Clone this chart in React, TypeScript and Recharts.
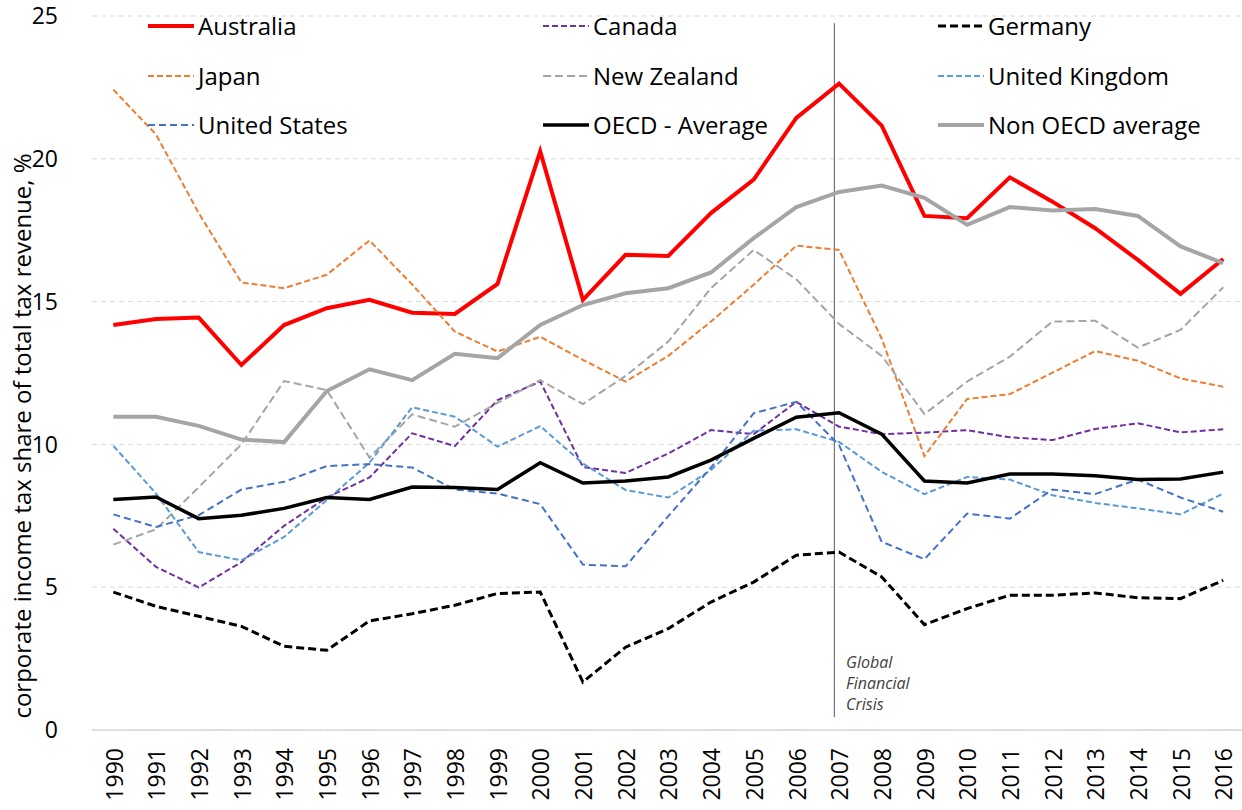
import React from 'react';
import { LineChart, Line, XAxis, YAxis, CartesianGrid, ReferenceLine, Legend } from 'recharts';

const years = [1990, 1991, 1992, 1993, 1994, 1995, 1996, 1997, 1998, 1999, 2000, 2001, 2002, 2003, 2004, 2005, 2006, 2007, 2008, 2009, 2010, 2011, 2012, 2013, 2014, 2015, 2016];
const yTicks = [0, 5, 10, 15, 20, 25];

const australia = [14.18, 14.39, 14.44, 12.78, 14.18, 14.77, 15.06, 14.61, 14.57, 15.62, 20.26, 15.06, 16.64, 16.6, 18.1, 19.27, 21.43, 22.63, 21.16, 18.0, 17.92, 19.35, 18.5, 17.57, 16.46, 15.27, 16.49];
const canada = [7.05, 5.71, 4.99, 5.88, 7.15, 8.14, 8.84, 10.39, 9.94, 11.55, 12.2, 9.21, 9.0, 9.68, 10.5, 10.36, 11.49, 10.62, 10.36, 10.41, 10.5, 10.25, 10.15, 10.54, 10.74, 10.42, 10.53];
const germany = [4.83, 4.33, 3.98, 3.63, 2.93, 2.79, 3.82, 4.07, 4.37, 4.78, 4.83, 1.68, 2.9, 3.55, 4.48, 5.18, 6.12, 6.23, 5.36, 3.69, 4.25, 4.72, 4.72, 4.8, 4.63, 4.6, 5.24];
const japan = [22.42, 20.85, 18.1, 15.67, 15.47, 15.94, 17.14, 15.6, 13.95, 13.25, 13.77, 12.96, 12.2, 13.1, 14.3, 15.59, 16.96, 16.81, 13.7, 9.59, 11.59, 11.76, 12.51, 13.27, 12.93, 12.31, 12.02];
const newZealand = [6.49, 7.03, 8.5, 10.0, 12.22, 11.9, 9.54, 11.05, 10.62, 11.45, 12.25, 11.41, 12.4, 13.6, 15.47, 16.81, 15.78, 14.22, 13.1, 11.06, 12.2, 13.07, 14.3, 14.33, 13.39, 14.01, 15.5];
const unitedKingdom = [9.95, 8.28, 6.23, 5.94, 6.76, 8.05, 9.36, 11.3, 10.97, 9.92, 10.64, 9.33, 8.4, 8.14, 9.1, 10.48, 10.53, 10.09, 9.04, 8.26, 8.86, 8.77, 8.22, 7.95, 7.76, 7.55, 8.28];
const unitedStates = [7.55, 7.11, 7.52, 8.42, 8.69, 9.24, 9.31, 9.19, 8.42, 8.28, 7.91, 5.79, 5.73, 7.49, 9.19, 11.09, 11.49, 9.98, 6.59, 5.98, 7.58, 7.4, 8.42, 8.26, 8.77, 8.14, 7.64];
const oecdAverage = [8.07, 8.16, 7.4, 7.52, 7.76, 8.14, 8.07, 8.51, 8.49, 8.42, 9.36, 8.65, 8.72, 8.86, 9.45, 10.21, 10.95, 11.11, 10.36, 8.72, 8.65, 8.96, 8.96, 8.9, 8.77, 8.79, 9.03];
const nonOecdAverage = [10.97, 10.97, 10.65, 10.17, 10.08, 11.87, 12.63, 12.25, 13.17, 13.02, 14.18, 14.88, 15.29, 15.47, 16.02, 17.22, 18.31, 18.84, 19.06, 18.63, 17.69, 18.31, 18.19, 18.24, 18.0, 16.93, 16.35];

const series = [
  { key: 'australia', name: 'Australia', values: australia, color: '#FF0000', width: 4, dash: undefined as string | undefined },
  { key: 'canada', name: 'Canada', values: canada, color: '#7030A0', width: 2, dash: '6 3' },
  { key: 'germany', name: 'Germany', values: germany, color: '#000000', width: 3, dash: '8 4' },
  { key: 'japan', name: 'Japan', values: japan, color: '#ED7D31', width: 2, dash: '6 3' },
  { key: 'newZealand', name: 'New Zealand', values: newZealand, color: '#A5A5A5', width: 2, dash: '8 4' },
  { key: 'unitedKingdom', name: 'United Kingdom', values: unitedKingdom, color: '#5B9BD5', width: 2, dash: '6 3' },
  { key: 'unitedStates', name: 'United States', values: unitedStates, color: '#4472C4', width: 2, dash: '7 4' },
  { key: 'oecdAverage', name: 'OECD - Average', values: oecdAverage, color: '#000000', width: 3.5, dash: undefined },
  { key: 'nonOecdAverage', name: 'Non OECD average', values: nonOecdAverage, color: '#A5A5A5', width: 4, dash: undefined },
];

const data = years.map((year, i) => {
  const row: Record<string, number> = { year };
  series.forEach((s) => {
    row[s.key] = s.values[i];
  });
  return row;
});

const FONT = "'Open Sans', 'Noto Sans', sans-serif";
const legendCols = [148, 543, 938];
const legendRows = [26, 75.5, 125];

const renderLegend = (props: any) => {
  const payload: any[] = props.payload || [];
  return (
    <div style={{ position: 'relative', width: 1242, height: 150 }}>
      {series.map((s, i) => {
        const p = payload.find((x) => x.dataKey === s.key);
        const label = p ? p.value : s.name;
        const col = i % 3;
        const row = Math.floor(i / 3);
        return (
          <div
            key={s.key}
            style={{
              position: 'absolute',
              left: legendCols[col],
              top: legendRows[row] - 17,
              height: 34,
              display: 'flex',
              alignItems: 'center',
              whiteSpace: 'nowrap',
            }}
          >
            <svg width={46} height={10} style={{ display: 'block' }}>
              <line x1={0} y1={5} x2={46} y2={5} stroke={s.color} strokeWidth={s.width} strokeDasharray={s.dash} />
            </svg>
            <span style={{ marginLeft: 4, fontSize: 24, fontFamily: FONT, color: '#000', lineHeight: '34px' }}>{label}</span>
          </div>
        );
      })}
    </div>
  );
};

const XTick = (props: any) => {
  const { x, y, payload } = props;
  return (
    <text
      x={x}
      y={y}
      transform={`rotate(-90, ${x}, ${y})`}
      textAnchor="end"
      dy="0.4em"
      fontSize={23}
      fontFamily={FONT}
      fill="#000"
    >
      {payload.value}
    </text>
  );
};

const renderYLabel = () => (
  <text
    x={21}
    y={436}
    transform="rotate(-90, 21, 436)"
    textAnchor="middle"
    dominantBaseline="central"
    fontSize={24}
    fontFamily={FONT}
    fill="#000"
  >
    corporate income tax share of total tax revenue, %
  </text>
);

export default function App() {
  return (
    <div style={{ position: 'absolute', left: 0, top: 0, width: 1242, height: 810, background: '#fff' }}>
      <LineChart width={1242} height={810} data={data} margin={{ top: 16, right: 0, left: 0, bottom: 0 }}>
        <CartesianGrid vertical={false} stroke="#D9D9D9" strokeDasharray="5 4" />
        <XAxis
          dataKey="year"
          type="number"
          domain={[1989.5, 2016.44]}
          ticks={years}
          interval={0}
          height={80}
          tickLine={false}
          tickSize={0}
          tickMargin={18}
          axisLine={{ stroke: '#D9D9D9', strokeWidth: 1.5 }}
          tick={<XTick />}
          allowDataOverflow
        />
        <YAxis
          type="number"
          domain={[0, 25]}
          ticks={yTicks}
          width={92}
          axisLine={false}
          tickLine={false}
          tickSize={0}
          tickMargin={34}
          tick={{ fontSize: 23, fontFamily: FONT, fill: '#000' }}
          label={{ content: renderYLabel }}
        />
        <ReferenceLine
          segment={[
            { x: 2006.89, y: 0.45 },
            { x: 2006.89, y: 24.75 },
          ]}
          stroke="#595959"
          strokeWidth={1}
          ifOverflow="visible"
        />
        <Legend
          layout="horizontal"
          verticalAlign="middle"
          align="center"
          itemSorter={null as any}
          content={renderLegend}
          wrapperStyle={{ position: 'absolute', top: 0, left: 0, width: 1242, height: 150 }}
        />
        {series.map((s) => (
          <Line
            key={s.key}
            dataKey={s.key}
            name={s.name}
            type="linear"
            stroke={s.color}
            strokeWidth={s.width}
            strokeDasharray={s.dash}
            dot={false}
            activeDot={false}
            isAnimationActive={false}
          />
        ))}
      </LineChart>
      <div
        style={{
          position: 'absolute',
          left: 846,
          top: 652,
          fontSize: 16,
          fontStyle: 'italic',
          fontFamily: FONT,
          color: '#404040',
          lineHeight: '21px',
        }}
      >
        Global
        <br />
        Financial
        <br />
        Crisis
      </div>
    </div>
  );
}
